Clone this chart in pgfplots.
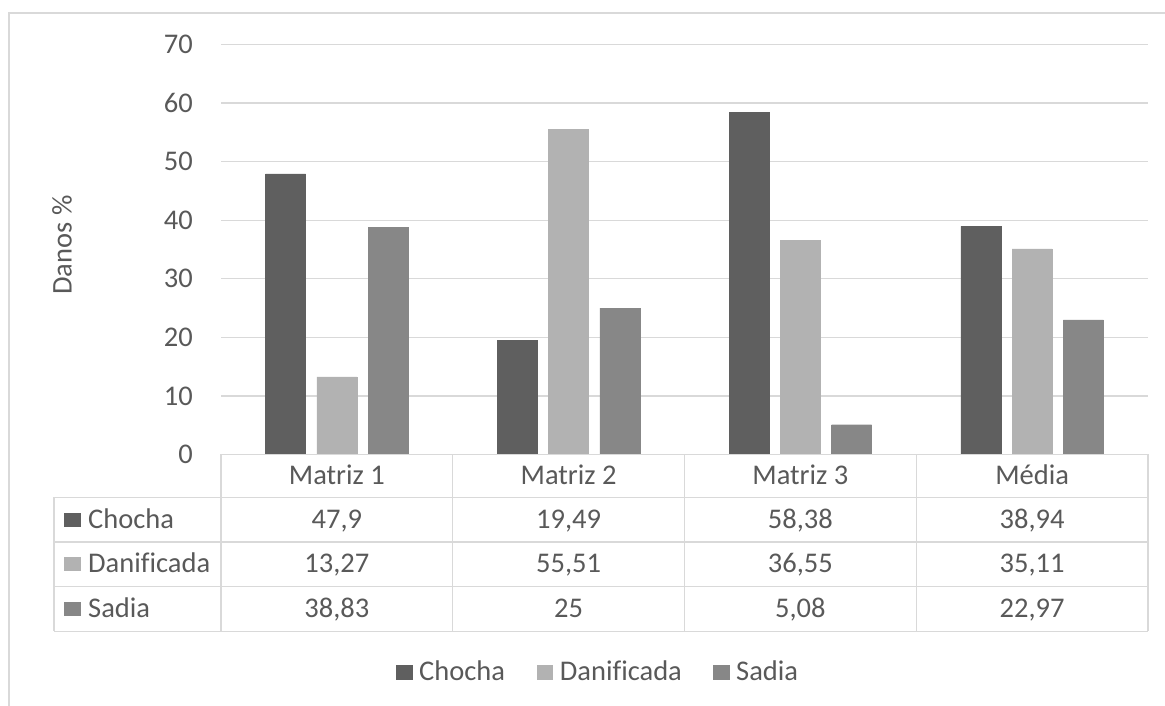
\documentclass[border=0pt]{standalone}
\usepackage{fontspec}
\setmainfont{Carlito}[Ligatures=NoCommon]
\usepackage{pgfplots}
\usepackage{pgfplotstable}
\pgfplotsset{compat=1.18}

\definecolor{txt}{HTML}{595959}
\definecolor{gridc}{HTML}{D9D9D9}
\definecolor{chocha}{HTML}{5F5F5F}
\definecolor{danif}{HTML}{B2B2B2}
\definecolor{sadia}{HTML}{878787}

% Danos (%) por matriz
\pgfplotstableread{
idx Chocha Danificada Sadia
0   47.9   13.27      38.83
1   19.49  55.51      25
2   58.38  36.55      5.08
3   38.94  35.11      22.97
}\danos

\newcommand{\chartfont}{\fontsize{28.5}{34}\selectfont}

\begin{document}
\begin{tikzpicture}[x=1pt,y=1pt,font=\chartfont,text=txt]
\path[use as bounding box] (0,0) rectangle (1165,706);
% chart frame
\draw[gridc,line width=1.6pt] (9,0) -- (9,693) -- (1165,693);

\begin{axis}[
  at={(221pt,251.5pt)}, anchor=south west,
  scale only axis, width=927pt, height=410pt,
  xmin=0, xmax=4, ymin=0, ymax=70,
  ytick={0,10,...,70}, xtick=\empty,
  axis line style={draw=none},
  major tick length=0pt,
  ymajorgrids, grid style={gridc,line width=1.2pt},
  yticklabel style={inner sep=0pt,xshift=-28pt,text=txt,font=\chartfont},
  /pgf/number format/assume math mode=true,
  ybar=11.2pt, bar width=40pt,
  clip=false,
]
\addplot[fill=chocha,draw=chocha] table[x expr=\coordindex+0.5,y=Chocha] {\danos};
\addplot[fill=danif,draw=danif] table[x expr=\coordindex+0.5,y=Danificada] {\danos};
\addplot[fill=sadia,draw=sadia] table[x expr=\coordindex+0.5,y=Sadia] {\danos};
\end{axis}

% axis title
\node[rotate=90,anchor=base,inner sep=0pt] at (71.7,461) {Danos \%};

% data table grid
\draw[gridc,line width=1.2pt]
  (221,251.5) -- (1148,251.5)
  (54,208.5) -- (1148,208.5)
  (54,164) -- (1148,164)
  (54,119.25) -- (1148,119.25)
  (54,74.5) -- (1148,74.5)
  (54,208.5) -- (54,74.5);
\foreach \c in {0,...,4}
  \draw[gridc,line width=1.2pt] ({221+231.75*\c},251.5) -- ({221+231.75*\c},74.5);

% column headers
\foreach \c/\h in {0/Matriz 1,1/Matriz 2,2/Matriz 3,3/Média}
  \node[anchor=base,inner sep=0pt] at ({221+231.75*(\c+0.5)},221) {\h};

% rows: series key, name and values
\foreach \r/\s/\y in {Chocha/chocha/177.7,Danificada/danif/133,Sadia/sadia/88.2}{
  \fill[\s] (64.3,\y+1.6) rectangle (81,\y+15.6);
  \node[anchor=base west,inner sep=0pt] at (88,\y) {\r};
  \foreach \c in {0,...,3}{
    \pgfplotstablegetelem{\c}{\r}\of\danos
    \node[anchor=base,inner sep=0pt] at ({221+231.75*(\c+0.5)},\y)
      {\pgfmathprintnumber[use comma,assume math mode=true]{\pgfplotsretval}};
  }
}

% legend
\foreach \x/\s/\l in {396/chocha/Chocha,536.7/danif/Danificada,713/sadia/Sadia}{
  \fill[\s] (\x,26.3) rectangle (\x+16.7,40.8);
  \node[anchor=base west,inner sep=0pt] at (\x+23,25) {\l};
}
\end{tikzpicture}
\end{document}
